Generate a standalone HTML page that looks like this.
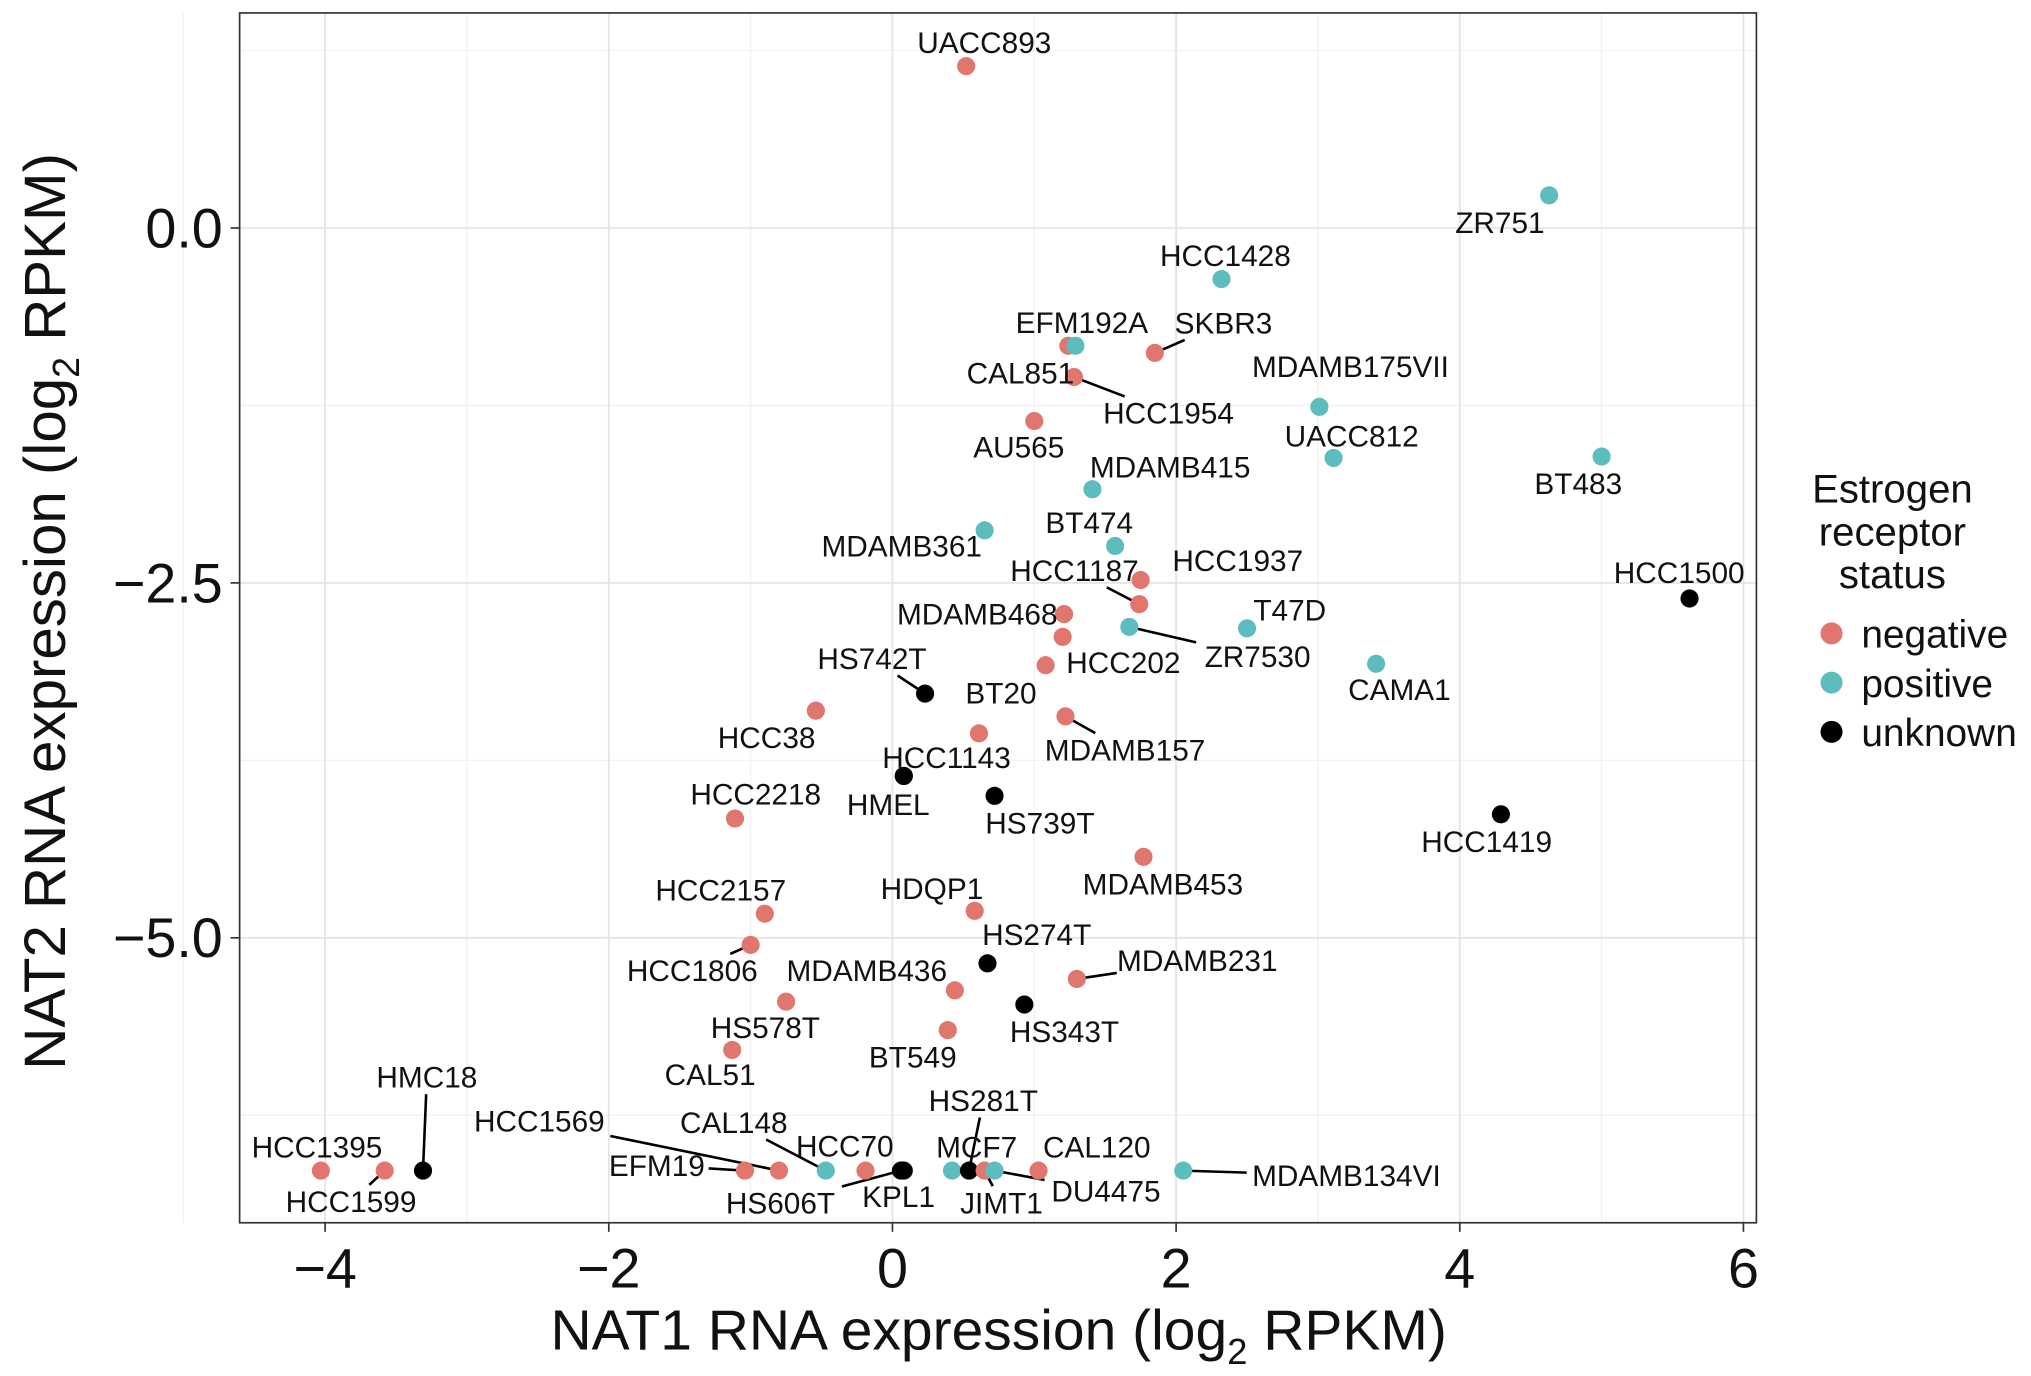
<!DOCTYPE html>
<html><head><meta charset="utf-8"><style>
html,body{margin:0;padding:0;background:#fff}
svg{display:block}
text{font-family:"Liberation Sans",Arial,sans-serif;fill:#111}
</style></head><body>
<svg id="chart" width="2031" height="1376" viewBox="0 0 1568 1062.3" xmlns="http://www.w3.org/2000/svg">
<rect width="1568" height="1063" fill="#fff"/>
<g id="grid"></g>
<g id="segs"></g>
<g id="pts"></g>
<g id="labs"></g>
<rect x="185" y="10" width="1171" height="934" fill="none" stroke="#333" stroke-width="1.3"/>
<g id="axes"></g>
<text x="771" y="1042" text-anchor="middle" font-size="44">NAT1 RNA expression (log<tspan font-size="28" dy="11">2</tspan><tspan dy="-11"> RPKM)</tspan></text>
<text transform="translate(50,472) rotate(-90)" text-anchor="middle" font-size="45">NAT2 RNA expression (log<tspan font-size="29" dy="11">2</tspan><tspan dy="-11"> RPKM)</tspan></text>
<g>
<text x="1461" y="388" text-anchor="middle" font-size="31">Estrogen</text>
<text x="1461" y="421" text-anchor="middle" font-size="31">receptor</text>
<text x="1461" y="454" text-anchor="middle" font-size="31">status</text>
<circle cx="1414" cy="489" r="8.5" fill="#E0766D"/>
<text x="1437" y="500" font-size="30">negative</text>
<circle cx="1414" cy="527" r="8.5" fill="#5DBDBE"/>
<text x="1437" y="538" font-size="30">positive</text>
<circle cx="1414" cy="565" r="8.5" fill="#000"/>
<text x="1437" y="576" font-size="30">unknown</text>
</g>
</svg>
<script>
const names=["UACC893","ZR751","HCC1428","CAL851","EFM192A","SKBR3","HCC1954","MDAMB175VII","AU565","UACC812","BT483","MDAMB415","MDAMB361","BT474","HCC1937","HCC1187","MDAMB468","HCC1500","ZR7530","T47D","HCC202","","CAMA1","HS742T","HCC38","MDAMB157","BT20","HCC1143","HMEL","HS739T","HCC2218","HCC1419","MDAMB453","HDQP1","HCC2157","HCC1806","HS274T","MDAMB231","MDAMB436","HS578T","HS343T","BT549","CAL51","HCC1395","HCC1599","HMC18","EFM19","HCC1569","CAL148","HCC70","HS606T","KPL1","MCF7","HS281T","JIMT1","DU4475","CAL120","MDAMB134VI"];
const nat1=[0.52,4.63,2.32,1.24,1.29,1.85,1.28,3.01,1.00,3.11,5.00,1.41,0.65,1.57,1.75,1.74,1.21,5.62,1.67,2.50,1.08,1.20,3.41,0.23,-0.54,1.22,0.61,0.08,0.08,0.72,-1.11,4.29,1.77,0.58,-0.90,-1.00,0.67,1.30,0.44,-0.75,0.93,0.39,-1.13,-4.03,-3.58,-3.31,-1.04,-0.80,-0.47,-0.19,0.06,0.08,0.42,0.54,0.65,0.72,1.03,2.05];
const nat2=[1.14,0.23,-0.36,-0.83,-0.83,-0.88,-1.05,-1.26,-1.36,-1.62,-1.61,-1.84,-2.13,-2.24,-2.48,-2.65,-2.72,-2.61,-2.81,-2.82,-3.08,-2.88,-3.07,-3.28,-3.40,-3.44,-3.56,-3.86,-3.86,-4.00,-4.16,-4.13,-4.43,-4.81,-4.83,-5.05,-5.18,-5.29,-5.37,-5.45,-5.47,-5.65,-5.79,-6.64,-6.64,-6.64,-6.64,-6.64,-6.64,-6.64,-6.64,-6.64,-6.64,-6.64,-6.64,-6.64,-6.64,-6.64];
const status=["n","p","p","n","p","n","n","p","n","p","p","p","p","p","n","n","n","u","p","p","n","n","p","u","n","n","n","u","u","u","n","u","n","n","n","n","u","n","n","n","u","n","n","n","n","u","n","n","p","n","u","u","p","u","n","p","n","p"];
const xTicks=[-4,-2,0,2,4,6];
const yTicks=[0,-2.5,-5];
const yTickLabels=["0.0","\u22122.5","\u22125.0"];
const xTickLabels=["\u22124","\u22122","0","2","4","6"];
// label layout offsets (pixels, not data): [dx,dy,leader]
const labelLayout=[[14,-18,0],[-38,21,0],[3,-18,0],[-37,21,0],[5,-18,0],[53,-23,1],[73,28,1],[24,-31,0],[-12,20,0],[14,-17,0],[-18,21,0],[60,-17,0],[-64,12,0],[-20,-18,0],[75,-15,0],[-50,-26,1],[-67,0,0],[-8,-20,0],[99,23,1],[33,-14,0],[60,-2,0],[0,0,0],[18,20,0],[-41,-27,1],[-38,21,0],[46,26,1],[17,-31,0],[33,-14,0],[-12,22,0],[35,21,0],[16,-19,0],[-11,21,0],[15,21,0],[-33,-17,0],[-34,-18,0],[-45,20,1],[38,-22,0],[93,-14,1],[-68,-15,0],[-16,20,0],[31,21,0],[-27,21,0],[-17,19,0],[-3,-18,0],[-26,24,1],[3,-72,1],[-68,-4,1],[-185,-38,1],[-71,-37,1],[-16,-19,0],[-93,25,1],[-4,20,0],[19,-18,0],[11,-54,1],[13,25,1],[86,16,1],[45,-18,0],[126,4,1]];
const colors={n:"#E0766D",p:"#5DBDBE",u:"#000"};
const xs=v=>689+v*109.5;
const ys=v=>176-v*109.6;
const NS="http://www.w3.org/2000/svg";
function mk(tag,attrs,parent){const e=document.createElementNS(NS,tag);for(const k in attrs)e.setAttribute(k,attrs[k]);parent.appendChild(e);return e;}
const grid=document.getElementById('grid'),axes=document.getElementById('axes');
[-5,-3,-1,1,3,5].forEach(v=>{const l=mk('line',{x1:xs(v),x2:xs(v),y1:10,y2:944,stroke:'#f1f1f1','stroke-width':1},grid);

});
[1.25,-1.25,-3.75,-6.25].forEach(v=>{const l=mk('line',{x1:185,x2:1356,y1:ys(v),y2:ys(v),stroke:'#f1f1f1','stroke-width':1},grid);

});
xTicks.forEach((v,i)=>{const l=mk('line',{x1:xs(v),x2:xs(v),y1:10,y2:944,stroke:'#e4e4e4','stroke-width':1.4},grid);


const t=mk('line',{x1:xs(v),x2:xs(v),y1:944,y2:951,stroke:'#333','stroke-width':1.3},axes);


const tx=mk('text',{x:xs(v),y:994,'text-anchor':'middle','font-size':43},axes);tx.textContent=xTickLabels[i];

});
yTicks.forEach((v,i)=>{const l=mk('line',{x1:185,x2:1356,y1:ys(v),y2:ys(v),stroke:'#e4e4e4','stroke-width':1.4},grid);


const t=mk('line',{x1:178,x2:185,y1:ys(v),y2:ys(v),stroke:'#333','stroke-width':1.3},axes);


const tx=mk('text',{x:172,y:ys(v)+15,'text-anchor':'end','font-size':43},axes);tx.textContent=yTickLabels[i];

});
const pts=document.getElementById('pts'),labs=document.getElementById('labs'),segs=document.getElementById('segs');
names.forEach((nm,i)=>{
 const px=xs(nat1[i]),py=ys(nat2[i]);
 const c=mk('circle',{cx:px,cy:py,r:7,fill:colors[status[i]]},pts);
 
 
 if(!nm)return;
 const [dx,dy,seg]=labelLayout[i];
 const lx=px+dx,ly=py+dy;
 const t=mk('text',{x:lx,y:ly+8,'text-anchor':'middle','font-size':23},labs);t.textContent=nm;
 
 
 if(seg){
  const hw=nm.length*7.4+3,hh=13;
  const vx=px-lx,vy=py-ly;
  const s=Math.min(Math.abs(vx)>0?hw/Math.abs(vx):1e9,Math.abs(vy)>0?hh/Math.abs(vy):1e9);
  if(s<1){const l=mk('line',{x1:lx+vx*s,y1:ly+vy*s,x2:px,y2:py,stroke:'#000','stroke-width':2},segs);
  
  }
 }
});
</script>
</body></html>
